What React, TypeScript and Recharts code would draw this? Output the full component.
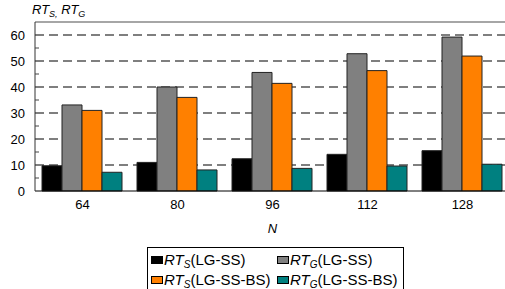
import { BarChart, Bar, XAxis, YAxis, CartesianGrid, ReferenceLine, Label } from 'recharts';

const categories = ['64', '80', '96', '112', '128'];
const rtsLgSs = [9.7, 11.0, 12.4, 14.1, 15.5];
const rtgLgSs = [33.1, 40.0, 45.6, 52.8, 59.2];
const rtsLgSsBs = [31.0, 36.0, 41.4, 46.3, 51.9];
const rtgLgSsBs = [7.2, 8.1, 8.7, 9.6, 10.3];
const yTicks = [0, 5, 10, 15, 20, 25, 30, 35, 40, 45, 50, 55, 60];
const gridValues = [10, 20, 30, 40, 50, 60];

const series = [
    { key: 'rtsLgSs', sub: 'S', name: '(LG-SS)', color: '#000000' },
    { key: 'rtgLgSs', sub: 'G', name: '(LG-SS)', color: '#808080' },
    { key: 'rtsLgSsBs', sub: 'S', name: '(LG-SS-BS)', color: '#FF8000' },
    { key: 'rtgLgSsBs', sub: 'G', name: '(LG-SS-BS)', color: '#008080' },
];

const data = categories.map((n, i) => ({
    n,
    rtsLgSs: rtsLgSs[i],
    rtgLgSs: rtgLgSs[i],
    rtsLgSsBs: rtsLgSsBs[i],
    rtgLgSsBs: rtgLgSsBs[i],
}));

const font = 'Liberation Sans, Arial, sans-serif';

function YTick(props: any) {
    const { x, y, payload } = props;
    const v = payload.value;
    const axisX = x + 10;
    if (v % 10 !== 0) {
        return <line x1={axisX} x2={axisX + 4} y1={y} y2={y} stroke="#444" strokeWidth={1} />;
    }
    return (
        <text x={x} y={y} dy="0.35em" textAnchor="end" fontSize={13} fill="#000" fontFamily={font}>
            {v}
        </text>
    );
}

const subStyle = { fontSize: 10, fontStyle: 'italic', position: 'relative' as const, top: 3 };

function LegendBox() {
    return (
        <div style={{
            position: 'absolute', left: 147, top: 247, width: 255, height: 44,
            border: '1px solid #000', fontFamily: font, fontSize: 15, color: '#000',
        }}>
            {series.map((s, i) => (
                <div key={s.key} style={{
                    position: 'absolute', left: i % 2 === 0 ? 3 : 129, top: i < 2 ? 3 : 23,
                    whiteSpace: 'nowrap', lineHeight: '18px', height: 18,
                }}>
                    <span style={{ display: 'inline-block', width: 10, height: 6, background: s.color, border: '1px solid #000', marginRight: 1, verticalAlign: 1 }} />
                    <i>RT</i><span style={subStyle}>{s.sub}</span>
                    <span>{s.name}</span>
                </div>
            ))}
        </div>
    );
}

export default function App() {
    return (
        <div style={{ position: 'absolute', left: 0, top: 0, width: 520, height: 289, background: '#fff', overflow: 'hidden' }}>
            <div style={{ position: 'absolute', left: 32, top: 2, fontFamily: font, fontSize: 13, fontStyle: 'italic', whiteSpace: 'nowrap', lineHeight: '16px' }}>
                RT<span style={{ ...subStyle, fontSize: 9 }}>S,</span> RT<span style={{ ...subStyle, fontSize: 9 }}>G</span>
            </div>
            <BarChart
                width={520}
                height={289}
                data={data}
                margin={{ top: 22, right: 10, left: 0, bottom: 0 }}
                barCategoryGap={7}
                barGap={0}
            >
                <CartesianGrid
                    vertical={false}
                    horizontalValues={gridValues}
                    stroke="#555"
                    strokeWidth={1.5}
                    strokeDasharray="9 5"
                />
                <ReferenceLine y={65} stroke="#888" strokeWidth={1.5} />
                <XAxis
                    dataKey="n"
                    height={98}
                    tickLine={false}
                    tickSize={0}
                    tickMargin={9}
                    axisLine={{ stroke: '#000', strokeWidth: 1 }}
                    tick={{ fontSize: 13, fill: '#000', fontFamily: font }}
                >
                    <Label value="N" position="insideTop" offset={33} style={{ fontStyle: 'italic', fontSize: 13, fill: '#000', fontFamily: font }} />
                </XAxis>
                <YAxis
                    width={35}
                    domain={[0, 65]}
                    ticks={yTicks}
                    interval={0}
                    tickLine={false}
                    tickSize={4}
                    tickMargin={6}
                    axisLine={{ stroke: '#333', strokeWidth: 1 }}
                    tick={<YTick />}
                />
                {series.map((s) => (
                    <Bar key={s.key} dataKey={s.key} fill={s.color} stroke="#222" strokeWidth={1} isAnimationActive={false} />
                ))}
            </BarChart>
            <LegendBox />
        </div>
    );
}
